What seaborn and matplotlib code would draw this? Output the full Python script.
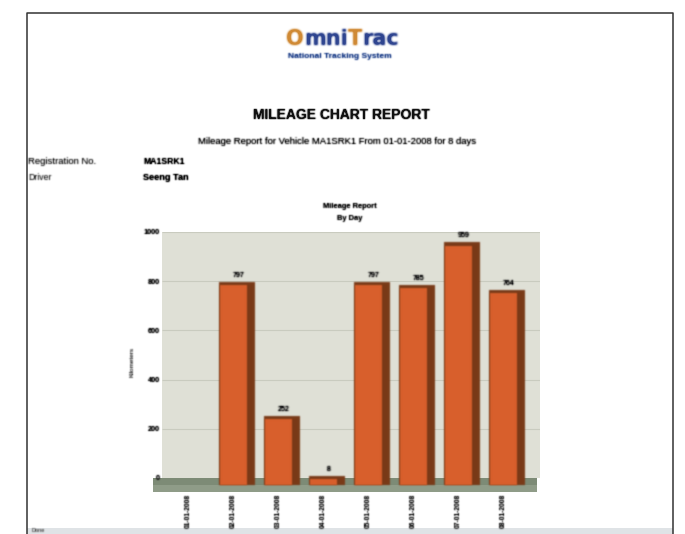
import numpy as np
import pandas as pd
import matplotlib
matplotlib.use("Agg")
import matplotlib.pyplot as plt
from matplotlib.transforms import ScaledTranslation
import seaborn as sns

days = ["01-01-2008", "02-01-2008", "03-01-2008", "04-01-2008",
        "05-01-2008", "06-01-2008", "07-01-2008", "08-01-2008"]
mileage = [0, 797, 252, 8, 797, 785, 959, 764]
value_labels = ["", "797", "252", "8", "797", "785", "959", "764"]
y_ticks = [0, 200, 400, 600, 800, 1000]

W, H = 685, 534
BASE = -28


def blur(sigma, gain=1.0):
    # the reference is a soft scan, so soften what gets drawn
    r = int(3 * sigma) + 1
    k = np.exp(-0.5 * (np.arange(-r, r + 1) / sigma) ** 2)
    k = k / k.sum()

    def _filter(img, dpi):
        pad = r + 1
        out = np.pad(img, ((pad, pad), (pad, pad), (0, 0)))
        # blur with premultiplied colour so edges do not go dark
        out[:, :, :3] *= out[:, :, 3:4]
        for ch in range(out.shape[2]):
            out[:, :, ch] = np.apply_along_axis(np.convolve, 0, out[:, :, ch], k, mode="same")
            out[:, :, ch] = np.apply_along_axis(np.convolve, 1, out[:, :, ch], k, mode="same")
        out[:, :, :3] /= np.maximum(out[:, :, 3:4], 1e-4)
        out = np.clip(out, 0, 1)
        out[:, :, 3] = np.clip(out[:, :, 3] * gain, 0, 1)
        return out, -pad, -pad
    return _filter


def px_text(x, y, s, size, sf=0.7, gain=1.5, **kw):
    t = fig.text(x / W, 1 - y / H, s, fontsize=size, **kw)
    t.set_agg_filter(blur(sf, gain))
    return t


sns.set_style("white")
plt.rcParams["font.family"] = ["Liberation Sans", "DejaVu Sans"]

fig = plt.figure(figsize=(6.85, 5.34), dpi=100)

# page frame
page = fig.add_axes([0, 0, 1, 1], zorder=0)
page.set_xlim(0, W)
page.set_ylim(H, 0)
page.axis("off")
page.plot([27, 27, 673, 673], [534, 13, 13, 534], color="#333333", lw=1.1)
page.fill_between([27, 673], 528, 534, color="#dfe3e6", lw=0)
px_text(32, 531, "Done", 4, color="#555555", va="center")

# logo, one piece per colour
logo = dict(fontsize=15, weight="bold", family="DejaVu Sans", va="baseline", ha="left")
for x, s, c in [(286, "O", "#d08a35"), (304, "mni", "#2f4590"),
                (348, "T", "#d08a35"), (362, "rac", "#2f4590")]:
    t = fig.text(x / W, 1 - 45 / H, s, color=c, **logo)
    t.set_agg_filter(blur(0.9, 1.3))
px_text(340, 56, "National Tracking System", 6, color="#3d5a9a", weight="bold", ha="center", va="center")

px_text(341, 115, "MILEAGE CHART REPORT", 10, 0.6, weight="bold", color="#111111", ha="center", va="center")
px_text(337, 142, "Mileage Report for Vehicle MA1SRK1 From 01-01-2008 for 8 days", 6.8, color="#111111", ha="center", va="center")
px_text(28, 161, "Registration No.", 6.8, color="#333333", va="center")
px_text(28, 178, "Driver", 6.2, color="#444444", va="center")
px_text(143, 161, "MA1SRK1", 6.2, weight="bold", color="#111111", va="center")
px_text(143, 178, "Seeng Tan", 6.6, weight="bold", color="#111111", va="center")
px_text(350, 207, "Mileage Report", 5.4, weight="bold", color="#222222", ha="center", va="center")
px_text(350, 219, "By Day", 5.4, weight="bold", color="#222222", ha="center", va="center")
px_text(132, 362, "Kilometers", 4.6, color="#333333", rotation=90, ha="center", va="center")

# plot area, the floor sticks out a little left of the back wall
left, right, top, bottom = 153, 540, 232, 492
ax = fig.add_axes([left / W, 1 - bottom / H, (right - left) / W, (bottom - top) / H], zorder=1)
ax.set_facecolor("#dfe0d6")
ax.set_axisbelow(False)

df = pd.DataFrame({"day": days, "mileage": mileage})
sns.barplot(data=df, x="day", y="mileage", color="#7a3a18", saturation=1, width=0.78,
            linewidth=0, ax=ax, zorder=3)
n_dark = len(ax.patches)
sns.barplot(data=df, x="day", y="mileage", color="#d9602c", saturation=1, width=0.60,
            linewidth=0, ax=ax, zorder=4)

for bar, v in zip(ax.patches[:n_dark], mileage):
    if v > 0:
        bar.set_y(BASE)
        bar.set_height(v - BASE)
    bar.set_agg_filter(blur(0.8))
for bar, v in zip(ax.patches[n_dark:], mileage):
    bar.set_x(bar.get_x() - 0.08)
    if v > 0:
        bar.set_y(BASE)
        bar.set_height(max(v - BASE - 14, 0))
    bar.set_agg_filter(blur(0.8))

x0, x1 = (left - 192) / 45, (right - 192) / 45
ax.set_xlim(x0, x1)
ax.set_ylim(-57, 1000)
ax.set_yticks(y_ticks)
ax.set_yticklabels(y_ticks, fontsize=5.2, color="#222222", weight="bold")
ax.set_xticks(range(len(days)))
ax.set_xticklabels(days, rotation=90, fontsize=4.8, color="#333333", weight="bold")
ax.tick_params(axis="x", length=0, pad=1)
ax.tick_params(axis="y", length=0, pad=-5)
ax.set_xlabel("")
ax.set_ylabel("")
shift = ScaledTranslation(-4 / 100, 0, fig.dpi_scale_trans)
for t in ax.get_xticklabels():
    t.set_transform(t.get_transform() + shift)
for t in ax.get_xticklabels() + ax.get_yticklabels():
    t.set_agg_filter(blur(0.7, 1.5))
for s in ax.spines.values():
    s.set_visible(False)

ax.grid(False)
ax.hlines(y_ticks[1:], (162 - 192) / 45, x1, color="#c9cbbf", lw=0.8, zorder=1)
# white strip left of the wall, then the floor of the 3d chart
ax.axvspan(x0, (162 - 192) / 45, ymin=57 / 1057, color="white", lw=0, zorder=1.5)
ax.axhspan(-57, 0, xmax=(537 - left) / (right - left), color="#8f9c88", lw=0, zorder=2)
ax.axhspan(-28, 0, xmax=(537 - left) / (right - left), color="#7d8b76", lw=0, zorder=2.1)
ax.axhspan(-57, 0, xmin=(537 - left) / (right - left), color="white", lw=0, zorder=2)

for i, (v, s) in enumerate(zip(mileage, value_labels)):
    t = ax.annotate(s, (i, v), xytext=(1, 2), textcoords="offset points", ha="center", va="bottom",
                    fontsize=5, color="#222222", zorder=6)
    t.set_agg_filter(blur(0.6, 1.5))

fig.savefig("out.png", dpi=100, facecolor="white")
